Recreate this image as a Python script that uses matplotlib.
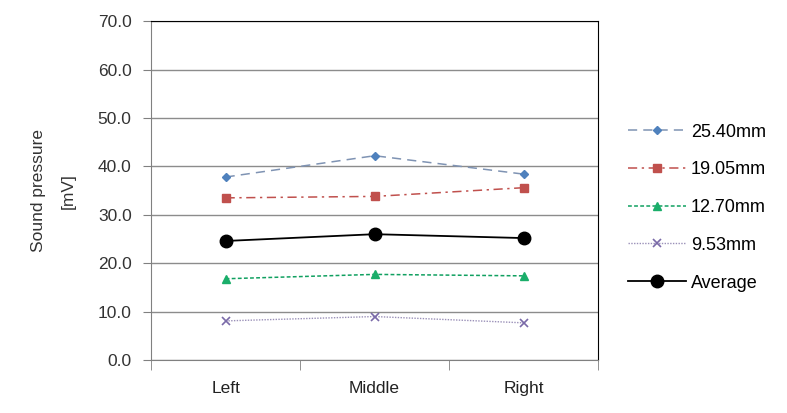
import numpy as np
import matplotlib.pyplot as plt

plt.rcParams['font.family'] = ['Liberation Sans', 'DejaVu Sans']

positions = ['Left', 'Middle', 'Right']
s2540 = [37.8, 42.2, 38.4]
s1905 = [33.5, 33.8, 35.6]
s1270 = [16.8, 17.7, 17.4]
s953 = [8.1, 9.0, 7.7]
avg = [24.6, 26.0, 25.2]
yticks = [0, 10, 20, 30, 40, 50, 60, 70]

fig = plt.figure(figsize=(7.87, 4.13), dpi=100)
ax = fig.add_axes([0.192, 0.128, 0.568, 0.821])
x = np.arange(len(positions))

ax.plot(x, s2540, ls=(0, (6, 4)), color='#7f93b3', lw=1.1, marker='D', ms=4.5,
        mfc='#4F81BD', mec='#4F81BD', label='25.40mm')
ax.plot(x, s1905, ls=(0, (6, 3, 1.5, 3)), color='#c0504d', lw=1.1, marker='s', ms=5.5,
        mfc='#C0504D', mec='#C0504D', label='19.05mm')
ax.plot(x, s1270, ls=(0, (2.5, 1.5)), color='#10a060', lw=1.1, marker='^', ms=6,
        mfc='#1aae6a', mec='#1aae6a', label='12.70mm')
ax.plot(x, s953, ls=(0, (1, 1)), color='#9a90b8', lw=1.0, marker='x', ms=6,
        mew=1.2, mec='#7a6aa8', label='9.53mm')
ax.plot(x, avg, ls='-', color='black', lw=1.3, marker='o', ms=9,
        mfc='black', mec='black', label='Average')

ax.set_xlim(-0.5, 2.5)
ax.set_ylim(0, 70)
ax.set_yticks(yticks)
ax.set_yticklabels([f'{v:.1f}' for v in yticks])
ax.set_xticks(x)
ax.set_xticklabels(positions)
ax.set_xticks([-0.5, 0.5, 1.5, 2.5], minor=True)
ax.tick_params(axis='x', which='major', length=0, pad=15, labelsize=12.5, colors='#222222')
ax.tick_params(axis='x', which='minor', length=7, color='#808080', direction='out')
ax.tick_params(axis='y', length=6, color='#808080', labelsize=12.5, colors='#333333', pad=8)
ax.yaxis.grid(True, color='#8c8c8c', lw=1.0)
ax.set_axisbelow(True)
for side in ['left', 'bottom']:
    ax.spines[side].set_color('#808080')
for side in ['top', 'right']:
    ax.spines[side].set_color('black')

ax.set_ylabel('Sound pressure\n[mV]', fontsize=12.5, color='#333333', labelpad=16,
              linespacing=2.2)

ax.legend(loc='center left', bbox_to_anchor=(1.03, 0.45), frameon=False,
          fontsize=13, labelspacing=1.15, handlelength=3.2, handletextpad=0.3)

fig.savefig('out.png', dpi=100)
